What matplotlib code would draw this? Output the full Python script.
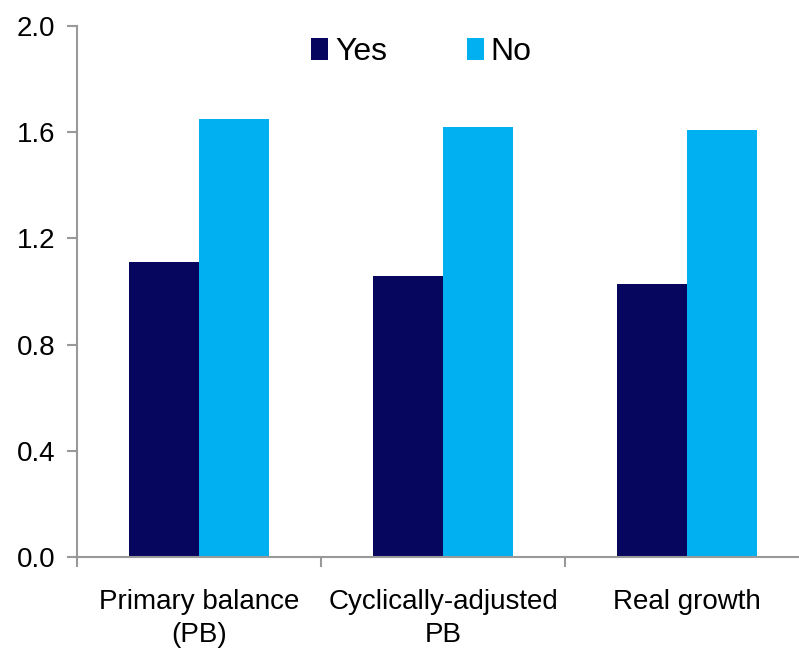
import matplotlib
matplotlib.use("Agg")
import matplotlib.pyplot as plt
from matplotlib.patches import Patch
import numpy as np

plt.rcParams['font.family'] = ['Liberation Sans', 'DejaVu Sans']

categories = ["Primary balance\n(PB)", "Cyclically-adjusted\nPB", "Real growth"]
yes_vals = [1.11, 1.06, 1.03]
no_vals = [1.65, 1.62, 1.61]
series_names = ["Yes", "No"]
yticks = [0.0, 0.4, 0.8, 1.2, 1.6, 2.0]

col_yes = "#06065e"
col_no = "#00b0f0"
grey = "#999999"

W, H = 799, 656
fig = plt.figure(figsize=(W / 100, H / 100), dpi=100)
# the plot area runs past the right edge, like the original export
ax = fig.add_axes([77 / W, 99 / H, 732 / W, 531 / H])

x = np.arange(len(categories))
bw = 0.287
ax.bar(x - bw / 2, yes_vals, bw, color=col_yes, edgecolor="none")
ax.bar(x + bw / 2, no_vals, bw, color=col_no, edgecolor="none")

ax.set_xlim(-0.5, len(categories) - 0.5)
ax.set_ylim(0, 2.0)
ax.set_yticks(yticks)
ax.set_yticklabels([f"{v:.1f}" for v in yticks])

ax.set_xticks(x)
ax.set_xticklabels(categories, linespacing=1.36)
ax.set_xticks(np.arange(-0.5, len(categories) + 0.5, 1), minor=True)
ax.tick_params(axis="x", which="major", length=0, pad=23, labelsize=20)
ax.tick_params(axis="x", which="minor", length=7.5, width=1.5, color=grey,
               direction="out")
ax.tick_params(axis="y", length=7.5, width=1.5, color=grey, pad=8,
               labelsize=20, direction="out")

for s in ["top", "right"]:
    ax.spines[s].set_visible(False)
for s in ["left", "bottom"]:
    ax.spines[s].set_color(grey)
    ax.spines[s].set_linewidth(1.5)

handles = [Patch(facecolor=col_yes, edgecolor="none"),
           Patch(facecolor=col_no, edgecolor="none")]
fig.legend(handles, series_names, loc="center left", ncol=2, frameon=False,
           fontsize=23, handlelength=0.53, handleheight=0.66,
           handletextpad=0.22, columnspacing=2.5, borderpad=0,
           borderaxespad=0, bbox_to_anchor=(311 / W, 1 - 52 / H))

fig.savefig("out.png", dpi=100)
